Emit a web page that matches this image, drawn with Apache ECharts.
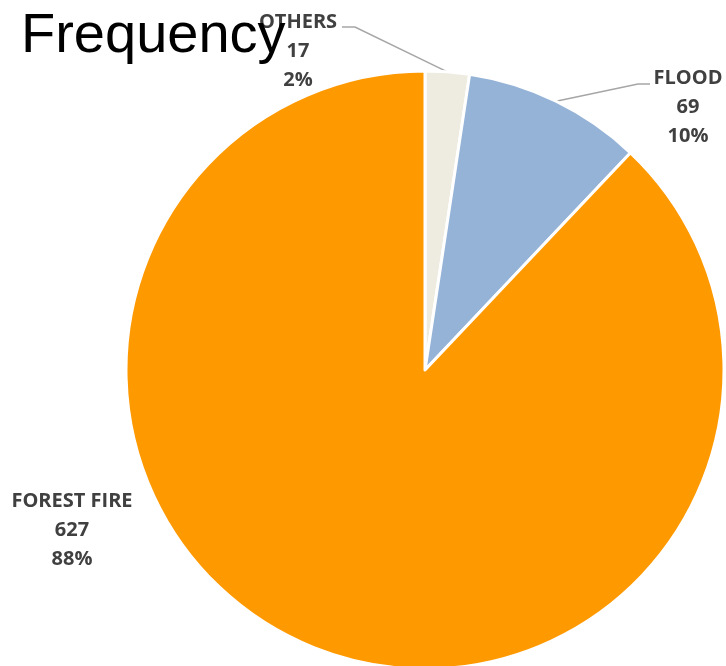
<!DOCTYPE html>
<html>
<head>
<meta charset="utf-8">
<script src="https://cdn.jsdelivr.net/npm/echarts@6/dist/echarts.min.js"></script>
<style>
  html, body { margin: 0; padding: 0; background: #fff; }
  #chart { width: 726px; height: 666px; }
</style>
</head>
<body>
<div id="chart"></div>
<script>
// Incident counts by type, listed clockwise from 12 o'clock
const categories = ['OTHERS', 'FLOOD', 'FOREST FIRE'];
const counts = [17, 69, 627];
const sliceColors = ['#EEECE1', '#95B3D7', '#FF9900'];

// Where each label sits, plus the bend points of its leader line
const labelSpots = [
  { x: 298, y: 51, bend: [[355, 27], [342, 27]] },
  { x: 688, y: 107, bend: [[638, 84], [650, 84]] },
  { x: 72, y: 530, bend: null }
];

const chart = echarts.init(document.getElementById('chart'), null, { renderer: 'canvas' });

chart.setOption({
  animation: false,
  backgroundColor: '#ffffff',
  title: {
    text: 'Frequency',
    left: 21,
    top: 9,
    padding: 0,
    textStyle: {
      fontFamily: '"Liberation Sans", Arial, sans-serif',
      fontSize: 56,
      fontWeight: 'normal',
      color: '#000000'
    }
  },
  series: [{
    type: 'pie',
    center: [425, 370],
    radius: [0, 299],
    startAngle: 90,
    clockwise: true,
    percentPrecision: 0,
    avoidLabelOverlap: false,
    itemStyle: { borderColor: '#ffffff', borderWidth: 3 },
    label: {
      show: true,
      position: 'outside',
      formatter: '{b}\n{c}\n{d}%',
      fontFamily: '"Open Sans", "Noto Sans", sans-serif',
      fontWeight: 'bold',
      fontSize: 20,
      lineHeight: 29,
      color: '#404040',
      align: 'center'
    },
    labelLine: {
      show: true,
      lineStyle: { color: '#a6a6a6', width: 1.5 }
    },
    labelLayout: function (p) {
      const spot = labelSpots[p.dataIndex];
      const out = { x: spot.x, y: spot.y, align: 'center', verticalAlign: 'middle' };
      if (spot.bend && p.labelLinePoints) {
        out.labelLinePoints = [p.labelLinePoints[0], spot.bend[0], spot.bend[1]];
      }
      return out;
    },
    data: categories.map(function (name, i) {
      return {
        name: name,
        value: counts[i],
        itemStyle: { color: sliceColors[i] },
        labelLine: { show: labelSpots[i].bend !== null }
      };
    })
  }]
});
</script>
</body>
</html>
